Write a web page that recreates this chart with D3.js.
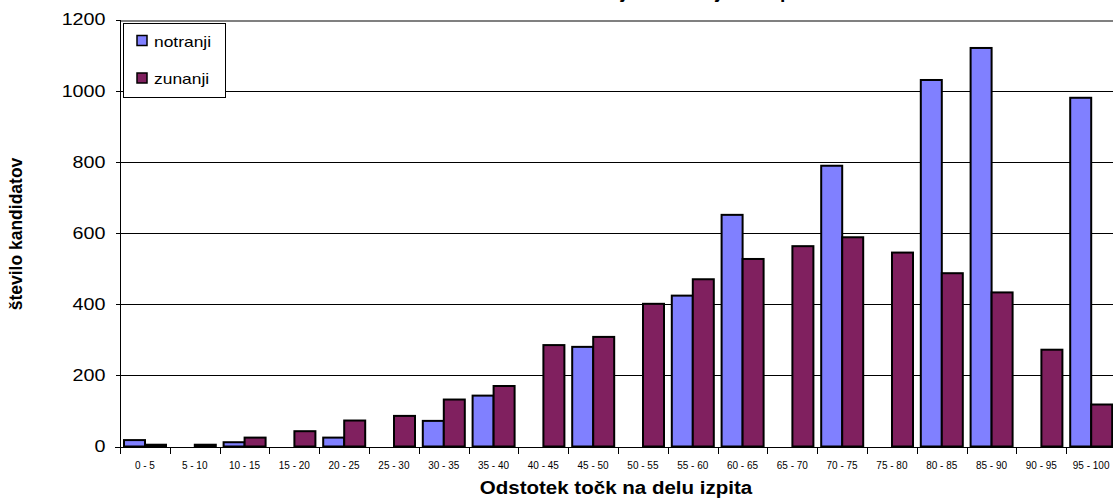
<!DOCTYPE html>
<html>
<head>
<meta charset="UTF-8">
<script src="https://cdn.jsdelivr.net/npm/d3@7/dist/d3.min.js"></script>
<style>
  body { margin: 0; background: #fff; }
  svg { display: block; font-family: "Liberation Sans", Arial, sans-serif; }
  .grid line { stroke: #000; shape-rendering: crispEdges; }
  .axis path, .axis line { stroke: #000; shape-rendering: crispEdges; }
  .bar { stroke: #000; stroke-width: 2; }
</style>
</head>
<body>
<script>
var categories = ["0 - 5", "5 - 10", "10 - 15", "15 - 20", "20 - 25", "25 - 30", "30 - 35", "35 - 40",
  "40 - 45", "45 - 50", "50 - 55", "55 - 60", "60 - 65", "65 - 70", "70 - 75", "75 - 80",
  "80 - 85", "85 - 90", "90 - 95", "95 - 100"];
var seriesNames = ["notranji", "zunanji"];
var notranji = [18, 0, 12, 0, 25, 0, 72, 143, 0, 280, 0, 424, 651, 0, 789, 0, 1030, 1120, 0, 980];
var zunanji = [5, 5, 25, 43, 73, 86, 132, 170, 285, 308, 401, 470, 527, 563, 588, 545, 487, 433, 272, 118];
var yTicks = [0, 200, 400, 600, 800, 1000, 1200];
var colors = ["#8080ff", "#80205f"];

var width = 1113;
var height = 499;

// the original chart is a little wider than its fonts, so stretch text sideways
function stretch(sel, k) {
  sel.each(function() {
    var len = this.getComputedTextLength();
    d3.select(this).attr("textLength", len * k).attr("lengthAdjust", "spacingAndGlyphs");
  });
}

var svg = d3.select("body").append("svg")
  .attr("width", width)
  .attr("height", height);

var x = d3.scaleBand().domain(categories).range([120, 1116]);
var xs = d3.scaleBand().domain(seriesNames).range([4, 46]);
var y = d3.scaleLinear().domain([0, 1200]).range([446.5, 19.5]);

// gridlines
svg.append("g").attr("class", "grid")
  .selectAll("line")
  .data(yTicks.slice(1))
  .enter().append("line")
  .attr("x1", 120).attr("x2", width)
  .attr("y1", function(d) { return Math.round(y(d)) + 0.5; })
  .attr("y2", function(d) { return Math.round(y(d)) + 0.5; })
  .style("stroke", function(d) { return d === 1200 ? "#808080" : "#000"; })
  .style("stroke-width", function(d) { return d === 1200 ? 2 : 1; });

// bars
var rows = categories.map(function(c, i) {
  return { cat: c, values: [notranji[i], zunanji[i]] };
});
var groups = svg.append("g").selectAll("g")
  .data(rows)
  .enter().append("g")
  .attr("transform", function(d) { return "translate(" + x(d.cat) + ",0)"; });
groups.selectAll("rect")
  .data(function(d) {
    return d.values.map(function(v, j) { return { name: seriesNames[j], value: v, j: j }; })
      .filter(function(e) { return e.value > 0; });
  })
  .enter().append("rect")
  .attr("class", "bar")
  .attr("x", function(d) { return xs(d.name); })
  .attr("width", xs.bandwidth())
  .attr("y", function(d) { return y(d.value); })
  .attr("height", function(d) { return y(0) - y(d.value); })
  .attr("fill", function(d) { return colors[d.j]; });

// y axis
var yAxis = d3.axisLeft(y).tickValues(yTicks).tickSize(5).tickPadding(10).tickFormat(d3.format("d"));
var ya = svg.append("g").attr("class", "axis")
  .attr("transform", "translate(120.5,0)")
  .call(yAxis);
ya.select(".domain").attr("d", "M0," + y(1200) + "V" + y(0));
ya.selectAll("text").style("font-size", "17px").attr("fill", "#000").call(stretch, 1.16);

// x axis
var xAxis = d3.axisBottom(x).tickSize(0).tickPadding(14);
var xa = svg.append("g").attr("class", "axis")
  .attr("transform", "translate(0," + (Math.round(y(0)) + 0.5) + ")")
  .call(xAxis);
xa.select(".domain").attr("d", "M115,0H" + width);
xa.selectAll("text").style("font-size", "10px").attr("fill", "#000");
xa.selectAll(".sep")
  .data(categories)
  .enter().append("line")
  .attr("class", "sep")
  .attr("x1", function(d) { return Math.round(x(d)) + 0.5; })
  .attr("x2", function(d) { return Math.round(x(d)) + 0.5; })
  .attr("y1", 0).attr("y2", 6);

// axis titles
svg.append("text")
  .attr("x", 616).attr("y", 494)
  .attr("text-anchor", "middle")
  .style("font-size", "18px").style("font-weight", "bold")
  .text("Odstotek točk na delu izpita")
  .call(stretch, 1.14);

svg.append("text")
  .attr("transform", "translate(22,234) rotate(-90)")
  .attr("text-anchor", "middle")
  .style("font-size", "17.5px").style("font-weight", "bold")
  .text("število kandidatov");

// title (cut at the top, as in the original)
svg.append("text")
  .attr("x", 592).attr("y", -1)
  .attr("text-anchor", "middle")
  .style("font-size", "17px").style("font-weight", "bold")
  .text("Porazdelitev točk za notranji in zunanji del izpita")
  .call(stretch, 1.14);

// legend
var legend = svg.append("g").attr("transform", "translate(123,23)");
legend.append("rect")
  .attr("width", 102).attr("height", 74)
  .attr("fill", "#fff").attr("stroke", "#000").attr("stroke-width", 1)
  .style("shape-rendering", "crispEdges");
var items = legend.selectAll(".item")
  .data(seriesNames)
  .enter().append("g")
  .attr("transform", function(d, i) { return "translate(14," + (12.5 + i * 37.5) + ")"; });
items.append("rect")
  .attr("width", 10).attr("height", 10)
  .attr("fill", function(d, i) { return colors[i]; })
  .attr("stroke", "#000").attr("stroke-width", 1.5);
items.append("text")
  .attr("x", 17).attr("y", 11)
  .style("font-size", "15px")
  .text(function(d) { return d; })
  .call(stretch, 1.16);
</script>
</body>
</html>
